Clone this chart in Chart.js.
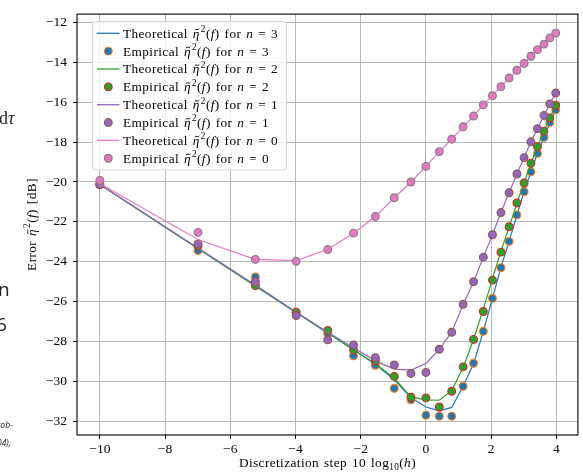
<!DOCTYPE html>
<html>
<head>
<meta charset="utf-8">
<script src="https://cdn.jsdelivr.net/npm/chart.js@4.4.1/dist/chart.umd.min.js"></script>
<style>
  html, body { margin: 0; padding: 0; background: #fff; }
  #wrap { width: 583px; height: 476px; }
</style>
</head>
<body>
<div id="wrap"><canvas id="chart" width="583" height="476"></canvas></div>
<script>
// discretization step 10 log10(h)
const stepDb = [-10, -6.99, -5.23, -3.98, -3.01, -2.22, -1.55, -0.97, -0.46, 0, 0.41, 0.79,
    1.14, 1.46, 1.76, 2.04, 2.30, 2.55, 2.79, 3.01, 3.22, 3.42, 3.62, 3.80, 3.98];

// theoretical error (dB)
const theoN3 = [-20.13, -23.33, -25.20, -26.53, -27.56, -28.40, -29.12, -29.90, -30.80, -31.26, -31.45, -31.28,
    -30.22, -29.10, -27.47, -25.82, -24.27, -22.97, -21.65, -20.49, -19.49, -18.57, -17.77, -17.02, -16.39];
const theoN2 = [-20.13, -23.33, -25.20, -26.53, -27.56, -28.40, -29.10, -29.82, -30.75, -30.90, -30.92, -30.44,
    -29.28, -27.88, -26.35, -24.85, -23.45, -22.26, -21.07, -20.05, -19.06, -18.23, -17.46, -16.79, -16.16];
const theoN1 = [-20.13, -23.30, -25.15, -26.50, -27.52, -28.29, -28.95, -29.36, -29.41, -29.08, -28.37, -27.50,
    -26.14, -24.99, -23.76, -22.64, -21.53, -20.54, -19.60, -18.78, -17.99, -17.33, -16.67, -16.09, -15.55];
const theoN0 = [-20.08, -22.88, -23.87, -23.93, -23.38, -22.56, -21.73, -20.79, -20.00, -19.22, -18.48, -17.86,
    -17.24, -16.70, -16.14, -15.68, -15.23, -14.80, -14.41, -14.07, -13.71, -13.38, -13.10, -12.79, -12.55];

// empirical error (dB)
const empN3 = [-20.15, -23.43, -24.75, -26.55, -27.60, -28.70, -29.17, -30.32, -30.90, -31.67, -31.72, -31.72,
    -30.22, -29.07, -27.47, -25.82, -24.29, -22.97, -21.65, -20.49, -19.49, -18.57, -17.77, -17.02, -16.39];
const empN2 = [-20.10, -23.20, -25.19, -26.51, -27.43, -28.41, -28.95, -29.73, -30.77, -30.80, -31.26, -30.47,
    -29.25, -27.88, -26.48, -24.91, -23.51, -22.24, -21.05, -20.05, -19.06, -18.23, -17.46, -16.79, -16.16];
const empN1 = [-20.13, -23.10, -24.99, -26.68, -27.90, -28.16, -28.79, -29.15, -29.58, -29.53, -28.37, -27.52,
    -26.12, -24.99, -23.76, -22.64, -21.53, -20.54, -19.60, -18.78, -17.99, -17.33, -16.67, -16.09, -15.55];
const empN0 = [-19.92, -22.52, -23.87, -23.97, -23.38, -22.56, -21.73, -20.79, -20.00, -19.22, -18.48, -17.86,
    -17.24, -16.70, -16.14, -15.68, -15.23, -14.80, -14.41, -14.07, -13.71, -13.38, -13.10, -12.79, -12.55];

const xTicks = [-10, -8, -6, -4, -2, 0, 2, 4];
const yTicks = [-32, -30, -28, -26, -24, -22, -20, -18, -16, -14, -12];

const SERIF = '"Liberation Serif", "DejaVu Serif", serif';
const FS = 13.3;

const series = [
    { n: 3, theo: theoN3, emp: empN3, line: '#1f77b4', face: '#1f77b4', edge: '#ff7f0e' },
    { n: 2, theo: theoN2, emp: empN2, line: '#2ca02c', face: '#2ca02c', edge: '#d62728' },
    { n: 1, theo: theoN1, emp: empN1, line: '#9467bd', face: '#9467bd', edge: '#8c564b' },
    { n: 0, theo: theoN0, emp: empN0, line: '#e377c2', face: '#e377c2', edge: '#7f7f7f' }
];

function toPoints(ys) {
    return stepDb.map((x, i) => ({ x: x, y: ys[i] }));
}

function etaParts(prefix, suffix) {
    return [{ t: prefix }, { t: 'η', s: 'tilde' }, { t: '2', s: 'sup' }, { t: '(' }, { t: 'f', s: 'i' }, { t: ')' + suffix }];
}

const datasets = [];
series.forEach(s => {
    datasets.push({
        label: 'Theoretical η̃²(f) for n = ' + s.n,
        parts: etaParts('Theoretical ', ' for ').concat([{ t: 'n', s: 'i' }, { t: ' = ' + s.n }]),
        data: toPoints(s.theo),
        showLine: true,
        borderColor: s.line,
        borderWidth: 1.2,
        pointRadius: 0,
        tension: 0
    });
    datasets.push({
        label: 'Empirical η̃²(f) for n = ' + s.n,
        parts: etaParts('Empirical ', ' for ').concat([{ t: 'n', s: 'i' }, { t: ' = ' + s.n }]),
        data: toPoints(s.emp),
        showLine: false,
        backgroundColor: s.face,
        borderColor: s.edge,
        borderWidth: 1.1,
        pointRadius: 3.9
    });
});
// later series drawn on top, like matplotlib
datasets.forEach((d, i) => { d.order = datasets.length - i; });

function setPartFont(ctx, p, size) {
    if (p.s === 'i' || p.s === 'tilde') ctx.font = `italic ${size}px ${SERIF}`;
    else if (p.s === 'sup' || p.s === 'sub') ctx.font = `${size * 0.7}px ${SERIF}`;
    else ctx.font = `${size}px ${SERIF}`;
}

function drawRich(ctx, x, y, parts, size) {
    ctx.letterSpacing = '0.4px';
    ctx.wordSpacing = '1.2px';
    parts.forEach(p => {
        setPartFont(ctx, p, size);
        let dy = 0;
        if (p.s === 'sup') dy = -size * 0.42;
        if (p.s === 'sub') dy = size * 0.22;
        ctx.fillText(p.t, x, y + dy);
        const w = ctx.measureText(p.t).width;
        if (p.s === 'tilde') {
            // small tilde accent over eta
            const cx = x + w * 0.6, ty = y - size * 0.62, hw = size * 0.17, amp = size * 0.05;
            ctx.save();
            ctx.strokeStyle = ctx.fillStyle;
            ctx.lineWidth = 0.9;
            ctx.beginPath();
            ctx.moveTo(cx - hw, ty + amp);
            ctx.bezierCurveTo(cx - hw * 0.4, ty - amp * 2.5, cx + hw * 0.4, ty + amp * 2.5, cx + hw, ty - amp);
            ctx.stroke();
            ctx.restore();
            x += 1;
        }
        x += w;
    });
    ctx.letterSpacing = '0px';
    ctx.wordSpacing = '0px';
    return x;
}

function richWidth(ctx, parts, size) {
    ctx.save();
    ctx.letterSpacing = '0.4px';
    ctx.wordSpacing = '1.2px';
    let w = 0;
    parts.forEach(p => {
        setPartFont(ctx, p, size);
        w += ctx.measureText(p.t).width + (p.s === 'tilde' ? 1 : 0);
    });
    ctx.restore();
    return w;
}

function fmtTick(v) {
    return (v < 0 ? '−' : '') + Math.abs(v);
}

// frame, legend, axis titles and the page fragments around the figure
const decorPlugin = {
    id: 'decor',
    afterDatasetsDraw(chart) {
        const ctx = chart.ctx;
        const a = chart.chartArea;
        ctx.save();
        ctx.strokeStyle = '#000';
        ctx.lineWidth = 1.1;
        ctx.strokeRect(a.left, a.top, a.right - a.left, a.bottom - a.top);

        // legend box
        const bx = 92.5, by = 21.5, bw = 194, bh = 148.5, r = 3;
        ctx.beginPath();
        ctx.roundRect(bx, by, bw, bh, r);
        ctx.fillStyle = 'rgba(255,255,255,0.8)';
        ctx.fill();
        ctx.strokeStyle = '#d6d6d6';
        ctx.lineWidth = 1;
        ctx.stroke();

        ctx.textBaseline = 'alphabetic';
        ctx.textAlign = 'left';
        chart.data.datasets.forEach((d, i) => {
            const cy = 33.3 + i * 17.85;
            if (d.showLine) {
                ctx.strokeStyle = d.borderColor;
                ctx.lineWidth = 1.3;
                ctx.beginPath();
                ctx.moveTo(97, cy);
                ctx.lineTo(119.5, cy);
                ctx.stroke();
            } else {
                ctx.beginPath();
                ctx.arc(108.3, cy, d.pointRadius, 0, Math.PI * 2);
                ctx.fillStyle = d.backgroundColor;
                ctx.fill();
                ctx.strokeStyle = d.borderColor;
                ctx.lineWidth = d.borderWidth;
                ctx.stroke();
            }
            ctx.fillStyle = '#000';
            drawRich(ctx, 123, cy + 4.4, d.parts, FS);
        });

        // x title
        ctx.fillStyle = '#000';
        const xParts = [{ t: 'Discretization step 10 log' }, { t: '10', s: 'sub' }, { t: '(' }, { t: 'h', s: 'i' }, { t: ')' }];
        const xw = richWidth(ctx, xParts, FS);
        drawRich(ctx, (a.left + a.right) / 2 - xw / 2, 467, xParts, FS);

        // y title
        const yParts = etaParts('Error ', ' [dB]');
        const yw = richWidth(ctx, yParts, FS);
        ctx.save();
        ctx.translate(36, (a.top + a.bottom) / 2);
        ctx.rotate(-Math.PI / 2);
        drawRich(ctx, -yw / 2, 0, yParts, FS);
        ctx.restore();

        // cropped page text at the left edge
        ctx.fillStyle = '#222';
        ctx.font = `18px ${SERIF}`;
        ctx.fillText('d', -1, 124);
        ctx.font = `italic 18px ${SERIF}`;
        ctx.fillText('τ', 8, 124);
        ctx.font = '19px "Open Sans", sans-serif';
        ctx.fillText('n', -2, 296);
        ctx.fillText('6', -4, 331);
        ctx.font = 'italic 8.5px "Open Sans", sans-serif';
        ctx.fillText('rob-', -3, 428);
        ctx.fillText('04),', -3, 446);
        ctx.restore();
    }
};

const tickFont = { family: SERIF, size: 13.5 };

new Chart(document.getElementById('chart'), {
    type: 'scatter',
    data: { datasets },
    options: {
        responsive: false,
        animation: false,
        layout: { padding: { left: 0, right: 4, top: 8, bottom: 0 } },
        plugins: {
            legend: { display: false },
            tooltip: { enabled: false }
        },
        scales: {
            x: {
                type: 'linear',
                min: -10.7,
                max: 4.66,
                afterFit: s => { s.height = 41; },
                afterBuildTicks: s => { s.ticks = xTicks.map(v => ({ value: v })); },
                ticks: { font: tickFont, color: '#000', padding: 2, maxRotation: 0, callback: fmtTick },
                grid: { color: '#b8b8b8', lineWidth: 1, tickLength: 4, tickColor: '#000', tickWidth: 1 },
                border: { display: false }
            },
            y: {
                type: 'linear',
                min: -32.66,
                max: -11.6,
                afterFit: s => { s.width = 77; },
                afterBuildTicks: s => { s.ticks = yTicks.map(v => ({ value: v })); },
                ticks: { font: tickFont, color: '#000', padding: 6, callback: fmtTick },
                grid: { color: '#b8b8b8', lineWidth: 1, tickLength: 4, tickColor: '#000', tickWidth: 1 },
                border: { display: false }
            }
        }
    },
    plugins: [decorPlugin]
});
</script>
</body>
</html>
